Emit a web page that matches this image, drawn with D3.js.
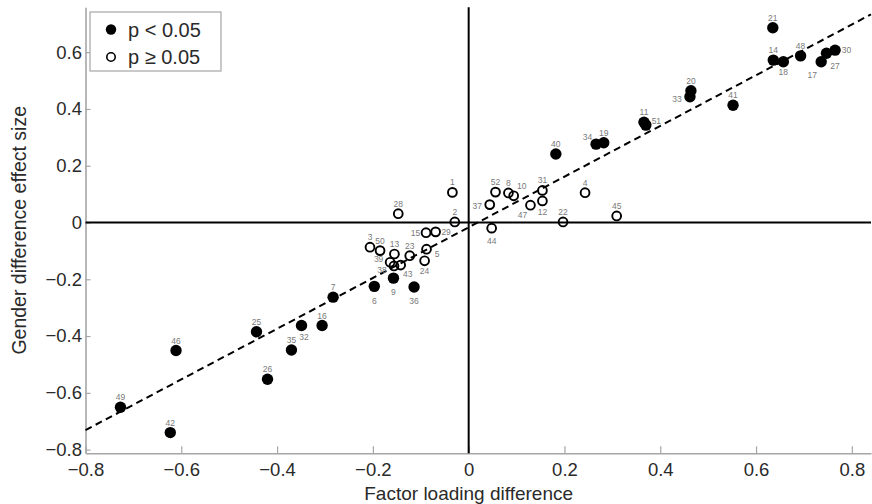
<!DOCTYPE html>
<html>
<head>
<meta charset="utf-8">
<script src="https://cdn.jsdelivr.net/npm/d3@7"></script>
<style>
  body { margin: 0; background: #fff; }
  svg { display: block; font-family: "Liberation Sans", Arial, Helvetica, sans-serif; }
</style>
</head>
<body>
<svg id="chart" width="872" height="504"></svg>
<script>
// ---- data ----
const ids = [1,2,3,4,5,6,7,8,9,10,11,12,13,14,15,16,17,18,19,20,21,22,23,24,25,26,
             27,28,29,30,31,32,33,34,35,36,37,38,39,40,41,42,43,44,45,46,47,48,49,50,51,52];
const loadingDiff = [-0.034,-0.029,-0.206,0.243,-0.088,-0.197,-0.283,0.083,-0.157,0.094,
  0.366,0.154,-0.155,0.636,-0.089,-0.306,0.736,0.657,0.282,0.464,0.635,0.197,-0.123,-0.092,
  -0.443,-0.420,0.747,-0.147,-0.069,0.765,0.154,-0.349,0.462,0.266,-0.370,-0.114,0.044,
  -0.156,-0.164,0.182,0.552,-0.623,-0.142,0.048,0.309,-0.611,0.129,0.693,-0.727,-0.185,0.370,0.056];
const effectSize = [0.106,0.002,-0.087,0.105,-0.094,-0.225,-0.263,0.104,-0.196,0.094,
  0.353,0.076,-0.111,0.572,-0.036,-0.363,0.566,0.566,0.281,0.464,0.686,0.002,-0.117,-0.135,
  -0.385,-0.552,0.596,0.031,-0.033,0.607,0.113,-0.363,0.443,0.276,-0.449,-0.227,0.063,
  -0.153,-0.140,0.241,0.413,-0.740,-0.150,-0.020,0.023,-0.451,0.061,0.587,-0.651,-0.099,0.343,0.107];
const significant = [0,0,0,0,0,1,1,0,1,0,1,0,0,1,0,1,1,1,1,1,1,0,0,0,1,1,
                     1,0,0,1,0,1,1,1,1,1,0,0,0,1,1,1,0,0,0,1,0,1,1,0,1,0];
const fitSlope = 0.893;
const fitIntercept = -0.017;
const xTicks = [-0.8,-0.6,-0.4,-0.2,0,0.2,0.4,0.6,0.8];
const yTicks = [-0.8,-0.6,-0.4,-0.2,0,0.2,0.4,0.6];
const legendLabels = ["p < 0.05", "p \u2265 0.05"];
const xLabel = "Factor loading difference";
const yLabel = "Gender difference effect size";

// ---- label placement (layout only) ----
const labelPlacement = {
  5:[10.5,4.5], 6:[0,14.5], 9:[0,13.5], 10:[8,-10], 12:[0,11], 15:[-10.5,0], 17:[-9,13],
  18:[0,10.5], 24:[0,10], 27:[8.5,12.5], 29:[10.5,0], 30:[11.5,0], 32:[2.5,11.5],
  33:[-13,2], 34:[-8.5,-7.5], 36:[0,14], 37:[-12.5,1], 38:[-12,4.5], 39:[-11.5,-3.5],
  43:[7,8.5], 44:[0,12.5], 47:[-8,10], 51:[10.5,-4.5]
};

const svg = d3.select("#chart");
const x = d3.scaleLinear().domain([-0.8, 0.84]).range([85.5, 871]);
const y = d3.scaleLinear().domain([-0.813, 0.758]).range([453.3, 7.3]);
const fmt = v => (v === 0 ? "0" : d3.format(".1f")(v).replace("-", "\u2212"));

// axes
const gx = svg.append("g").attr("transform", `translate(0,${y.range()[0]})`)
  .call(d3.axisBottom(x).tickValues(xTicks).tickFormat(fmt).tickSizeInner(-7).tickSizeOuter(0).tickPadding(10));
const gy = svg.append("g").attr("transform", `translate(${x.range()[0]},0)`)
  .call(d3.axisLeft(y).tickValues(yTicks).tickFormat(fmt).tickSizeInner(-5).tickSizeOuter(0).tickPadding(3.5));
[gx, gy].forEach(g => {
  g.select(".domain").attr("stroke", "#a6a6a6").attr("stroke-width", 1.6);
  g.selectAll(".tick line").attr("stroke", "#a6a6a6").attr("stroke-width", 1.2);
  g.selectAll(".tick text").attr("fill", "#2a2a2a").style("font-size", "18.5px")
    .style("font-family", "'Liberation Sans', Arial, sans-serif");
});

// zero lines
svg.append("line").attr("x1", x(0)).attr("x2", x(0)).attr("y1", y.range()[1]).attr("y2", y.range()[0])
  .attr("stroke", "#000").attr("stroke-width", 2);
svg.append("line").attr("x1", x.range()[0]).attr("x2", x.range()[1]).attr("y1", y(0)).attr("y2", y(0))
  .attr("stroke", "#000").attr("stroke-width", 2);

// fit line
const xd = x.domain();
svg.append("line")
  .attr("x1", x(xd[0])).attr("y1", y(fitSlope * xd[0] + fitIntercept))
  .attr("x2", x(xd[1])).attr("y2", y(fitSlope * xd[1] + fitIntercept))
  .attr("stroke", "#000").attr("stroke-width", 2).attr("stroke-dasharray", "7,4.5");

// points
const pts = ids.map((id, i) => ({ id, xv: loadingDiff[i], yv: effectSize[i], sig: significant[i] }));
const gp = svg.append("g");
pts.forEach(p => {
  const cx = x(p.xv), cy = y(p.yv);
  if (p.sig) {
    gp.append("circle").attr("cx", cx).attr("cy", cy).attr("r", 5.7).attr("fill", "#000");
  } else {
    gp.append("circle").attr("cx", cx).attr("cy", cy).attr("r", 4.4)
      .attr("fill", "none").attr("stroke", "#000").attr("stroke-width", 1.9);
  }
  const off = labelPlacement[p.id] || [0, -10];
  gp.append("text").attr("x", cx + off[0]).attr("y", cy + off[1])
    .attr("text-anchor", "middle").attr("dominant-baseline", "central")
    .attr("fill", "#7a7a7a").style("font-size", "8.5px").text(p.id);
});

// legend
const lg = svg.append("g");
lg.append("rect").attr("x", 90).attr("y", 12).attr("width", 131).attr("height", 59)
  .attr("fill", "#fff").attr("stroke", "#a6a6a6").attr("stroke-width", 1.2);
legendLabels.forEach((t, i) => {
  const ly = 29.5 + i * 27.5;
  if (i === 0) lg.append("circle").attr("cx", 111).attr("cy", ly).attr("r", 5.2).attr("fill", "#000");
  else lg.append("circle").attr("cx", 111).attr("cy", ly).attr("r", 4.2).attr("fill", "none")
        .attr("stroke", "#000").attr("stroke-width", 1.6);
  lg.append("text").attr("x", 128).attr("y", ly + 7).attr("fill", "#2a2a2a")
    .style("font-size", "20px").text(t);
});

// axis titles
svg.append("text").attr("x", x(0)).attr("y", 499.5).attr("text-anchor", "middle")
  .attr("fill", "#2a2a2a").style("font-size", "19px").text(xLabel);
svg.append("text").attr("transform", `translate(26,${(y.range()[0] + y.range()[1]) / 2}) rotate(-90)`)
  .attr("text-anchor", "middle").attr("fill", "#2a2a2a").style("font-size", "19.5px").text(yLabel);
</script>
</body>
</html>
